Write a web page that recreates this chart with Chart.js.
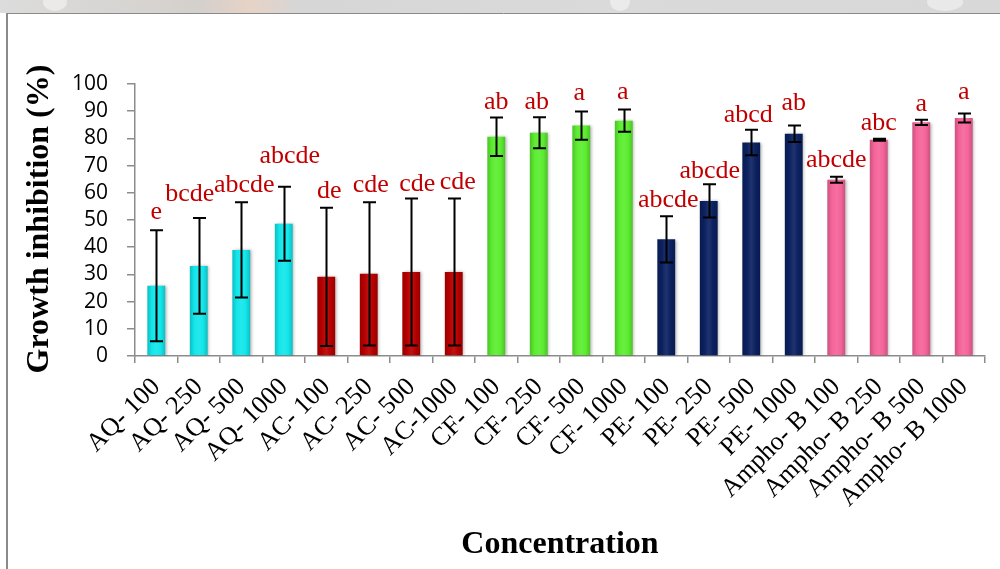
<!DOCTYPE html>
<html>
<head>
<meta charset="utf-8">
<script src="https://cdn.jsdelivr.net/npm/chart.js@4.4.1/dist/chart.umd.min.js"></script>
<style>
  html, body { margin: 0; padding: 0; background: #fff; }
  canvas { display: block; }
</style>
</head>
<body>
<canvas id="c" width="1000" height="569"></canvas>
<script>
// Extract treatments and their concentrations
const categories = [
  'AQ- 100', 'AQ- 250', 'AQ- 500', 'AQ- 1000',
  'AC- 100', 'AC- 250', 'AC- 500', 'AC-1000',
  'CF- 100', 'CF- 250', 'CF- 500', 'CF- 1000',
  'PE- 100', 'PE- 250', 'PE- 500', 'PE- 1000',
  'Ampho- B 100', 'Ampho- B 250', 'Ampho- B 500', 'Ampho- B 1000'
];
// Mean growth inhibition (%)
const inhibition = [
  25.8, 33.1, 39.0, 48.6,
  29.1, 30.2, 30.9, 30.9,
  80.6, 82.1, 84.7, 86.5,
  42.9, 57.0, 78.5, 81.7,
  64.8, 79.5, 85.9, 87.5
];
// Standard deviation for each mean
const stdDev = [
  20.4, 17.6, 17.5, 13.6,
  25.4, 26.3, 27.0, 27.0,
  7.1, 5.7, 5.2, 4.1,
  8.5, 6.1, 4.7, 3.0,
  1.1, 0.4, 1.0, 1.7
];
// Significance groups
const groupLetters = [
  'e', 'bcde', 'abcde', 'abcde',
  'de', 'cde', 'cde', 'cde',
  'ab', 'ab', 'a', 'a',
  'abcde', 'abcde', 'abcd', 'ab',
  'abcde', 'abc', 'a', 'a'
];
const yTickValues = [0, 10, 20, 30, 40, 50, 60, 70, 80, 90, 100];

// Styling (kept apart from the data)
const extractColors = {
  AQ: '#12e6ea', AC: '#b80000', CF: '#5cec30', PE: '#0b2160', Ampho: '#f5649a'
};
const barColors = categories.map(c => extractColors[c.split('-')[0].trim()]);
// Per-label placement tweaks: horizontal shift and gap above the error bar (px)
const letterPlacement = [
  [0, 11], [-9, 17], [3, 10], [6, 24],
  [3, 10], [2, 10], [6, 8], [4, 10],
  [0, 8], [-2, 8], [-2, 11], [-1, 11],
  [2, 9], [1, 6], [-3, 8], [0, 16],
  [0, 10], [0, 9], [0, 9], [0, 14]
];

function shade(hex, f) {
  const n = parseInt(hex.slice(1), 16);
  let r = (n >> 16) & 255, g = (n >> 8) & 255, b = n & 255;
  const m = v => Math.max(0, Math.min(255, Math.round(f < 0 ? v * (1 + f) : v + (255 - v) * f)));
  return `rgb(${m(r)},${m(g)},${m(b)})`;
}

const decorations = {
  id: 'decorations',
  beforeDraw(chart) {
    const c = chart.ctx;
    c.save();
    c.fillStyle = '#ffffff';
    c.fillRect(0, 0, chart.width, chart.height);
    // faded banner strip above the frame
    const g = c.createLinearGradient(0, 0, chart.width, 0);
    g.addColorStop(0, '#dcdcdc');
    g.addColorStop(0.2, '#d4d0cc');
    g.addColorStop(0.25, '#e6d3c6');
    g.addColorStop(0.3, '#d6d6d6');
    g.addColorStop(0.6, '#dadada');
    g.addColorStop(1, '#d8d8d8');
    c.fillStyle = g;
    c.fillRect(0, 0, chart.width, 13);
    c.fillStyle = 'rgba(255,255,255,0.45)';
    [[55, 12], [620, 10], [945, 18]].forEach(([x, r]) => {
      c.beginPath(); c.ellipse(x, 2, r, 9, 0, 0, Math.PI * 2); c.fill();
    });
    // frame
    c.strokeStyle = '#8a8a8a';
    c.lineWidth = 1;
    c.beginPath(); c.moveTo(7, 13.5); c.lineTo(chart.width, 13.5); c.stroke();
    c.lineWidth = 2;
    c.beginPath(); c.moveTo(7, 13); c.lineTo(7, chart.height); c.stroke();
    c.restore();
  },
  beforeDatasetDraw(chart) {
    const c = chart.ctx;
    c.save();
    c.shadowColor = 'rgba(0,0,0,0.3)';
    c.shadowBlur = 3;
    c.shadowOffsetX = 1.5;
    c.shadowOffsetY = 0.5;
  },
  afterDatasetDraw(chart) {
    chart.ctx.restore();
  },
  afterDatasetsDraw(chart) {
    const c = chart.ctx;
    const y = chart.scales.y;
    const meta = chart.getDatasetMeta(0);
    c.save();
    c.strokeStyle = '#000';
    c.lineWidth = 2;
    meta.data.forEach((bar, i) => {
      const x = Math.round(bar.x) + 0.5;
      const top = y.getPixelForValue(inhibition[i] + stdDev[i]);
      const bot = y.getPixelForValue(inhibition[i] - stdDev[i]);
      c.beginPath();
      c.moveTo(x, top); c.lineTo(x, bot);
      c.moveTo(x - 6.5, top); c.lineTo(x + 6.5, top);
      c.moveTo(x - 6.5, bot); c.lineTo(x + 6.5, bot);
      c.stroke();
      // significance letters
      const [dx, gap] = letterPlacement[i];
      c.fillStyle = '#c00000';
      c.font = '26px "Liberation Serif", "Times New Roman", serif';
      c.textAlign = 'center';
      c.textBaseline = 'alphabetic';
      c.fillText(groupLetters[i], bar.x + dx, top - gap);
    });
    c.restore();
  },
  afterDraw(chart) {
    const c = chart.ctx;
    c.save();
    c.fillStyle = '#000';
    c.font = 'bold 32px "Liberation Serif", "Times New Roman", serif';
    c.textAlign = 'center';
    c.textBaseline = 'alphabetic';
    c.fillText('Concentration', 560, 553);
    c.translate(48, 219);
    c.rotate(-Math.PI / 2);
    c.fillText('Growth inhibition (%)', 0, 0);
    c.restore();
  }
};

new Chart(document.getElementById('c'), {
  type: 'bar',
  data: {
    labels: categories,
    datasets: [{
      data: inhibition,
      backgroundColor(ctx) {
        const chart = ctx.chart;
        const base = barColors[ctx.dataIndex] || '#888';
        const xs = chart.scales && chart.scales.x;
        if (ctx.type !== 'data' || !xs || !chart.chartArea) return base;
        const cx = xs.getPixelForValue(ctx.dataIndex);
        const half = xs.width / categories.length * 0.42 / 2;
        const g = chart.ctx.createLinearGradient(cx - half, 0, cx + half, 0);
        g.addColorStop(0, shade(base, -0.18));
        g.addColorStop(0.25, base);
        g.addColorStop(0.5, shade(base, 0.08));
        g.addColorStop(0.75, base);
        g.addColorStop(1, shade(base, -0.18));
        return g;
      },
      borderWidth: 0,
      categoryPercentage: 1,
      barPercentage: 0.42
    }]
  },
  options: {
    responsive: false,
    animation: false,
    layout: { padding: { top: 84, left: 0, right: 15, bottom: 0 } },
    plugins: { legend: { display: false }, tooltip: { enabled: false } },
    scales: {
      x: {
        offset: true,
        grid: { drawOnChartArea: false, offset: true, tickLength: 7, color: '#8c8c8c', lineWidth: 1.5 },
        border: { color: '#8c8c8c', width: 1.5 },
        ticks: {
          autoSkip: false, minRotation: 45, maxRotation: 45, padding: 9,
          color: '#000',
          font: { family: '"Liberation Serif", "Times New Roman", serif', size: 26 }
        },
        afterFit(scale) { scale.height = 213; }
      },
      y: {
        min: 0, max: 100,
        afterBuildTicks(scale) { scale.ticks = yTickValues.map(v => ({ value: v })); },
        grid: { drawOnChartArea: false, tickLength: 8, color: '#8c8c8c', lineWidth: 1.5 },
        border: { color: '#8c8c8c', width: 1.5 },
        ticks: {
          autoSkip: false, padding: 19, color: '#000',
          font: { family: '"Open Sans", sans-serif', size: 21, lineHeight: 1 }
        },
        afterFit(scale) { scale.width = 135; }
      }
    }
  },
  plugins: [decorations]
});
</script>
</body>
</html>
